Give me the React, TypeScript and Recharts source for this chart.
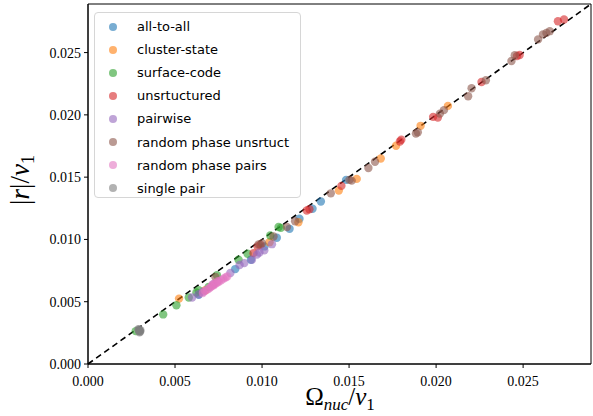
import { ScatterChart, Scatter, XAxis, YAxis, ReferenceLine, ReferenceArea, Legend } from "recharts";

type Pt = { x: number; y: number };

const seriesNames = [
  "all-to-all",
  "cluster-state",
  "surface-code",
  "unsrtuctured",
  "pairwise",
  "random phase unsrtuct",
  "random phase pairs",
  "single pair",
];
const seriesColors = ["#1f77b4", "#ff7f0e", "#2ca02c", "#d62728", "#9467bd", "#8c564b", "#e377c2", "#7f7f7f"];

const tickValues = [0, 0.005, 0.01, 0.015, 0.02, 0.025];
const axisMax = 0.0289;
const diagLine = [0, 0.0289];

const allToAll: [number, number][] = [
  [0.00636, 0.00555], [0.00846, 0.00762], [0.00936, 0.00837], [0.01014, 0.00944], [0.01085, 0.01013],
  [0.01158, 0.01085], [0.01215, 0.01166], [0.0129, 0.01246], [0.01338, 0.01304], [0.01483, 0.01478],
];
const clusterState: [number, number][] = [
  [0.00523, 0.00525], [0.00674, 0.00592], [0.01043, 0.00978], [0.01209, 0.01138], [0.01441, 0.01392],
  [0.01544, 0.01486], [0.01682, 0.0165], [0.0177, 0.01752], [0.01911, 0.01912], [0.02068, 0.02072],
];
const surfaceCode: [number, number][] = [
  [0.00274, 0.00264], [0.00432, 0.00398], [0.00508, 0.00472], [0.00579, 0.00534], [0.00623, 0.00574],
  [0.00636, 0.00592], [0.00693, 0.00618], [0.00741, 0.00712], [0.00865, 0.00837], [0.00917, 0.00885],
  [0.01047, 0.01032], [0.01095, 0.011], [0.01108, 0.01093],
];
const unstructured: [number, number][] = [
  [0.00951, 0.0089], [0.00974, 0.00944], [0.0099, 0.00958], [0.01257, 0.01232], [0.01272, 0.01243],
  [0.01456, 0.0143], [0.01792, 0.01786], [0.018, 0.018], [0.01983, 0.01984], [0.0201, 0.01978],
  [0.02261, 0.02264], [0.02465, 0.02472], [0.0248, 0.0248], [0.027, 0.02752], [0.02735, 0.02766],
];
const pairwise: [number, number][] = [
  [0.00598, 0.00534], [0.00636, 0.0056], [0.0066, 0.0058], [0.0072, 0.0064], [0.00818, 0.0073],
  [0.00871, 0.00795], [0.00898, 0.0081], [0.00942, 0.00837], [0.00971, 0.00878], [0.00985, 0.00895],
  [0.01013, 0.00912], [0.01057, 0.00962],
];
const randomUnstruct: [number, number][] = [
  [0.00732, 0.00698], [0.0098, 0.0096], [0.01, 0.0097], [0.01066, 0.01024], [0.01143, 0.011],
  [0.0119, 0.01146], [0.01395, 0.0137], [0.01502, 0.01478], [0.01515, 0.01472], [0.01611, 0.01574],
  [0.01649, 0.01624], [0.01884, 0.0185], [0.01895, 0.0186], [0.02022, 0.0201], [0.02045, 0.02038],
  [0.02184, 0.0215], [0.02204, 0.02214], [0.02286, 0.02278], [0.02433, 0.02432], [0.02452, 0.02478],
  [0.02586, 0.02606], [0.02614, 0.02646], [0.02634, 0.02658], [0.02653, 0.02672],
];
const randomPairs: [number, number][] = [
  [0.0066, 0.0057], [0.00672, 0.00585], [0.00685, 0.00598], [0.00695, 0.00605], [0.00705, 0.00618],
  [0.00712, 0.00625], [0.00718, 0.0064], [0.00722, 0.00632], [0.0073, 0.00642], [0.0074, 0.0065],
  [0.00745, 0.00665], [0.00752, 0.0066], [0.00765, 0.00672], [0.00778, 0.00685], [0.0079, 0.00695],
  [0.008, 0.00702],
];
const singlePair: [number, number][] = [
  [0.0029, 0.0028], [0.00292, 0.00275], [0.00295, 0.0027], [0.00298, 0.00265], [0.003, 0.0026],
  [0.00296, 0.00255], [0.00293, 0.00268], [0.00301, 0.00272],
];

const seriesData = [allToAll, clusterState, surfaceCode, unstructured, pairwise, randomUnstruct, randomPairs, singlePair];

const toPts = (arr: [number, number][]): Pt[] => arr.map(([x, y]) => ({ x, y }));

const tickFont = { fill: "#000", fontSize: 14, fontFamily: "'Liberation Serif', 'DejaVu Serif', serif" };

function LegendBox() {
  return (
    <div
      style={{
        width: 207,
        height: 186,
        boxSizing: "border-box",
        border: "1px solid #d6d6d6",
        borderRadius: 4,
        background: "rgba(255,255,255,0.8)",
        paddingTop: 2,
        fontFamily: "'DejaVu Sans', sans-serif",
        fontSize: 13,
      }}
    >
      {seriesNames.map((name, i) => (
        <div key={name} style={{ height: 23.1, display: "flex", alignItems: "center" }}>
          <svg width={42} height={12} style={{ flex: "none" }}>
            <circle cx={18} cy={6} r={4} fill={seriesColors[i]} fillOpacity={0.6} />
          </svg>
          <span style={{ color: "#000", whiteSpace: "nowrap" }}>{name}</span>
        </div>
      ))}
    </div>
  );
}

export default function App() {
  return (
    <div style={{ position: "absolute", left: 0, top: 0, width: 593, height: 416, background: "#fff" }}>
      <ScatterChart width={593} height={416} margin={{ top: 4, right: 2, left: 0, bottom: 0 }}>
        <XAxis
          dataKey="x"
          type="number"
          domain={[0, axisMax]}
          ticks={tickValues}
          tickFormatter={(v: number) => v.toFixed(3)}
          tick={tickFont}
          tickSize={4}
          tickMargin={8}
          height={52}
          stroke="#000"
          allowDataOverflow
        />
        <YAxis
          dataKey="y"
          type="number"
          domain={[0, axisMax]}
          ticks={tickValues}
          tickFormatter={(v: number) => v.toFixed(3)}
          tick={tickFont}
          tickSize={4}
          tickMargin={3}
          width={88}
          stroke="#000"
          allowDataOverflow
        />
        <ReferenceArea
          x1={0}
          x2={axisMax}
          y1={0}
          y2={axisMax}
          fill="none"
          fillOpacity={0}
          stroke="#000"
          strokeWidth={1}
          ifOverflow="visible"
        />
        <ReferenceLine
          segment={[
            { x: diagLine[0], y: diagLine[0] },
            { x: diagLine[1], y: diagLine[1] },
          ]}
          stroke="#000"
          strokeWidth={1.6}
          strokeDasharray="6 4"
          ifOverflow="visible"
        />
        {seriesData.map((arr, i) => (
          <Scatter
            key={seriesNames[i]}
            name={seriesNames[i]}
            data={toPts(arr)}
            isAnimationActive={false}
            shape={(p: any) => <circle cx={p.cx} cy={p.cy} r={4.2} fill={seriesColors[i]} fillOpacity={0.6} />}
          />
        ))}
        <Legend
          layout="vertical"
          align="center"
          verticalAlign="middle"
          content={() => <LegendBox />}
          wrapperStyle={{ left: 94, top: 12, width: 207, height: 186 }}
        />
        <text
          x={340}
          y={405}
          textAnchor="middle"
          fontFamily="'Liberation Serif', 'DejaVu Serif', serif"
          fontSize={25}
          fill="#000"
        >
          Ω<tspan fontStyle="italic" fontSize={17} dy={5}>nuc</tspan>
          <tspan dy={-5}>/</tspan>
          <tspan fontStyle="italic">ν</tspan>
          <tspan fontSize={17} dy={5}>1</tspan>
        </text>
        <text
          transform="translate(29,180) rotate(-90)"
          textAnchor="middle"
          fontFamily="'Liberation Serif', 'DejaVu Serif', serif"
          fontSize={27}
          fill="#000"
        >
          |<tspan fontStyle="italic">r</tspan>
          <tspan>|/</tspan>
          <tspan fontStyle="italic">ν</tspan>
          <tspan fontSize={18} dy={5}>1</tspan>
        </text>
      </ScatterChart>
    </div>
  );
}
